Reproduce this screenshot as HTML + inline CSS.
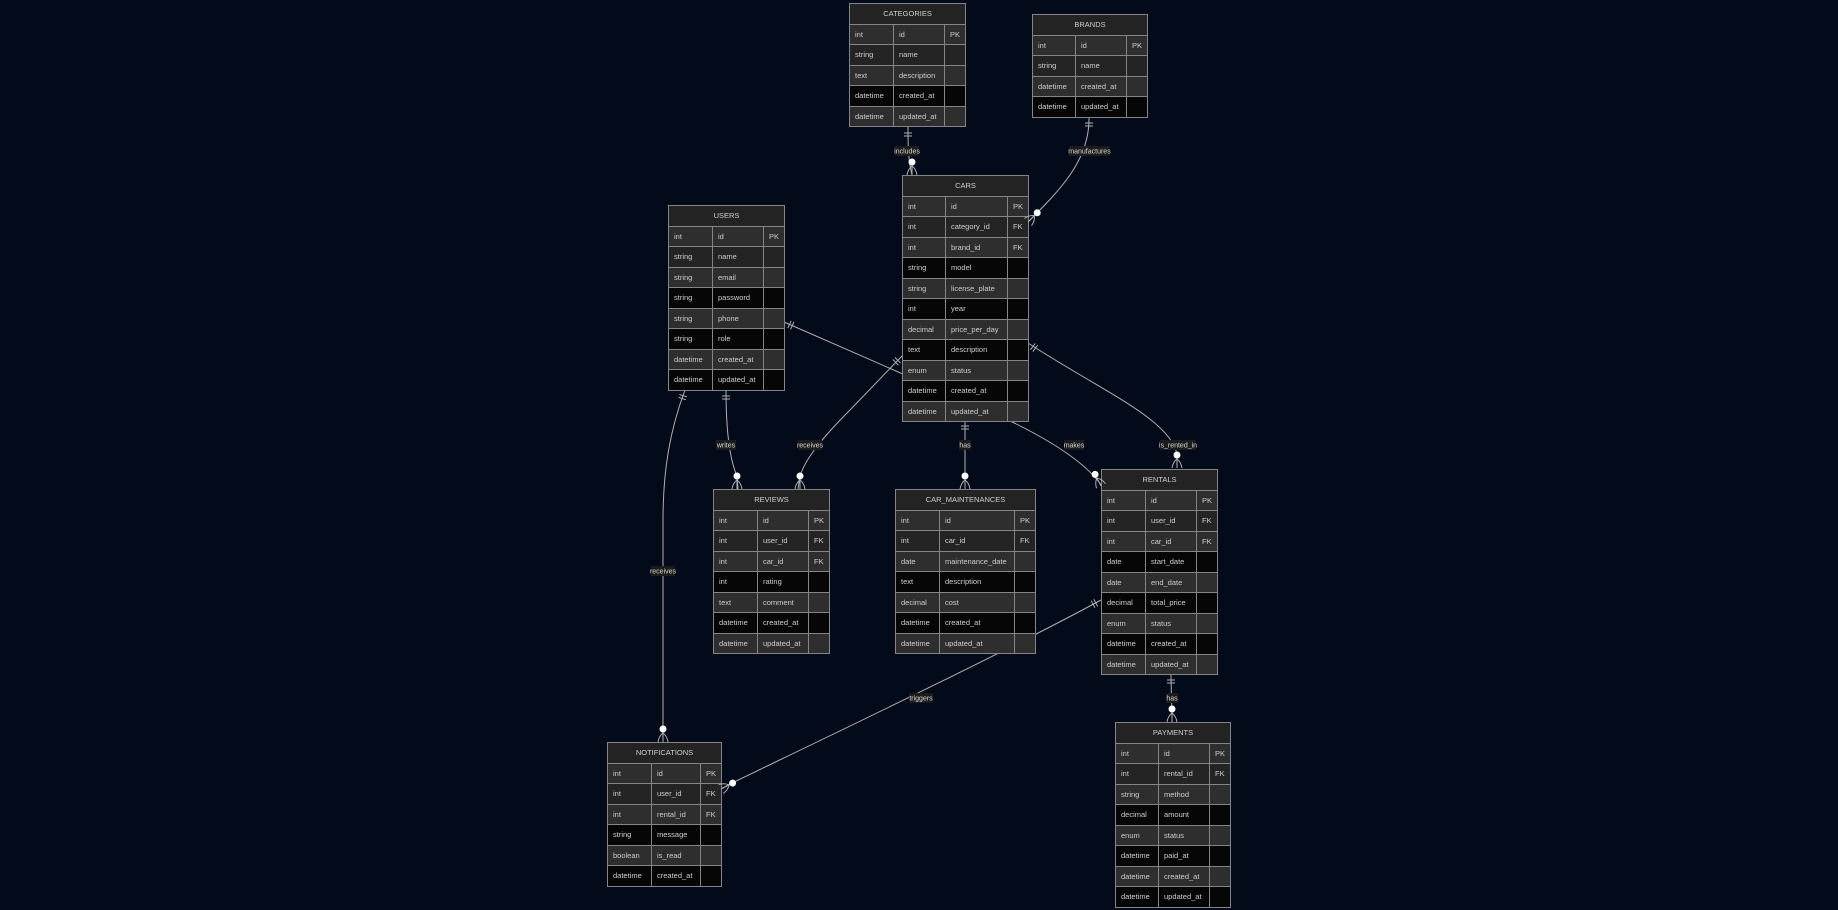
<!DOCTYPE html>
<html><head><meta charset="utf-8"><style>
html,body{margin:0;padding:0;background:#030a1a;width:1838px;height:910px;overflow:hidden;font-family:"Liberation Sans",sans-serif}
svg.e{position:absolute;left:0;top:0;z-index:1}
svg.m{position:absolute;left:0;top:0;z-index:3}
.t{position:absolute;z-index:2}
table{border-collapse:collapse;table-layout:fixed;border:1px solid #9a9a9a}
td,th{border:1px solid #858585;font-size:7.5px;color:#cfcfcf;padding:0 0 0 5px;height:19.5px;white-space:nowrap;overflow:hidden;font-weight:normal;text-align:left}
th{background:#232323;text-align:center;padding:0;height:19.6px}
tr.G td{background:#2e2e2e}tr.D td{background:#242424}tr.B td{background:#060606}
</style></head><body>
<svg class="e" width="1838" height="910" fill="none" stroke="#b0b0b0" stroke-width="1">
<path d="M908,127 C908,145 908,160 912,175"/>
<path d="M1089,117 C1090,160 1060,190 1028,222"/>
<path d="M784,322 L1008,420 C1050,440 1085,462 1102,486"/>
<path d="M902,356 L850,410 C820,440 805,460 800,476 L798,489"/>
<path d="M726,390 C726,430 730,460 737,476 L738,489"/>
<path d="M685,390 C670,430 663,470 663,520 L663,742"/>
<path d="M965,420 L965,489"/>
<path d="M1028,343 C1100,390 1172,420 1177,455 L1177,468"/>
<path d="M1101,600 C1000,655 800,750 734,782 L721,789"/>
<path d="M1171,674 C1171,690 1172,700 1172,722"/>
</svg>
<svg class="m" width="1838" height="910" fill="none" stroke="#b0b0b0" stroke-width="1">
<defs>
<g id="cf"><path d="M0,-9 Q-4,-6 -5,0 M0,-9 Q4,-6 5,0 M0,-13 L0,0"/><circle cx="0" cy="-13" r="3.5" fill="#fff" stroke="none"/></g>
<g id="one"><path d="M-4,6 L4,6 M-4,9 L4,9"/></g>
</defs>
<use href="#cf" transform="translate(912,175)"/>
<use href="#cf" transform="translate(1028,222) rotate(45)"/>
<use href="#cf" transform="translate(1101,486) rotate(-27)"/>
<use href="#cf" transform="translate(800,489)"/>
<use href="#cf" transform="translate(737,489)"/>
<use href="#cf" transform="translate(663,742)"/>
<use href="#cf" transform="translate(965,489)"/>
<use href="#cf" transform="translate(1177,468)"/>
<use href="#cf" transform="translate(721,789) rotate(63)"/>
<use href="#cf" transform="translate(1172,722)"/>
<use href="#one" transform="translate(908,127)"/>
<use href="#one" transform="translate(1089,117)"/>
<use href="#one" transform="translate(784,322) rotate(-66)"/>
<use href="#one" transform="translate(902,356) rotate(45)"/>
<use href="#one" transform="translate(726,390)"/>
<use href="#one" transform="translate(685,390) rotate(18)"/>
<use href="#one" transform="translate(965,420)"/>
<use href="#one" transform="translate(1028,343) rotate(-53)"/>
<use href="#one" transform="translate(1101,600) rotate(62)"/>
<use href="#one" transform="translate(1171,674)"/>
<g font-family="Liberation Sans,sans-serif" font-size="7" fill="#d8d8d8" stroke="none" text-anchor="middle">
<rect x="895" y="146" width="24" height="10" fill="#1c1c1c"/><text x="907" y="153.5">includes</text>
<rect x="1069" y="146" width="41" height="10" fill="#1c1c1c"/><text x="1089.5" y="153.5">manufactures</text>
<rect x="716" y="440" width="20" height="10" fill="#1c1c1c"/><text x="726" y="447.5">writes</text>
<rect x="798" y="440" width="24" height="10" fill="#1c1c1c"/><text x="810" y="447.5">receives</text>
<rect x="959" y="440" width="12" height="10" fill="#1c1c1c"/><text x="965" y="447.5">has</text>
<rect x="1064" y="440" width="20" height="10" fill="#1c1c1c"/><text x="1074" y="447.5">makes</text>
<rect x="1160" y="440" width="36" height="10" fill="#1c1c1c"/><text x="1178" y="447.5">is_rented_in</text>
<rect x="651" y="566" width="24" height="10" fill="#1c1c1c"/><text x="663" y="573.5">receives</text>
<rect x="909" y="693" width="24" height="10" fill="#1c1c1c"/><text x="921" y="700.5">triggers</text>
<rect x="1166" y="693" width="12" height="10" fill="#1c1c1c"/><text x="1172" y="700.5">has</text>
</g>
</svg>

<div class="t" style="left:849px;top:3px"><table style="width:116px"><colgroup><col style="width:44px"><col style="width:51px"><col style="width:21px"></colgroup>
<tr><th colspan="3">CATEGORIES</th></tr>
<tr class="G"><td>int</td><td>id</td><td>PK</td></tr>
<tr class="D"><td>string</td><td>name</td><td></td></tr>
<tr class="G"><td>text</td><td>description</td><td></td></tr>
<tr class="B"><td>datetime</td><td>created_at</td><td></td></tr>
<tr class="G"><td>datetime</td><td>updated_at</td><td></td></tr>
</table></div>

<div class="t" style="left:1032px;top:14px"><table style="width:115px"><colgroup><col style="width:43px"><col style="width:51px"><col style="width:21px"></colgroup>
<tr><th colspan="3">BRANDS</th></tr>
<tr class="G"><td>int</td><td>id</td><td>PK</td></tr>
<tr class="D"><td>string</td><td>name</td><td></td></tr>
<tr class="G"><td>datetime</td><td>created_at</td><td></td></tr>
<tr class="B"><td>datetime</td><td>updated_at</td><td></td></tr>
</table></div>

<div class="t" style="left:902px;top:175px"><table style="width:126px"><colgroup><col style="width:43px"><col style="width:62px"><col style="width:21px"></colgroup>
<tr><th colspan="3">CARS</th></tr>
<tr class="G"><td>int</td><td>id</td><td>PK</td></tr>
<tr class="D"><td>int</td><td>category_id</td><td>FK</td></tr>
<tr class="G"><td>int</td><td>brand_id</td><td>FK</td></tr>
<tr class="B"><td>string</td><td>model</td><td></td></tr>
<tr class="G"><td>string</td><td>license_plate</td><td></td></tr>
<tr class="B"><td>int</td><td>year</td><td></td></tr>
<tr class="G"><td>decimal</td><td>price_per_day</td><td></td></tr>
<tr class="B"><td>text</td><td>description</td><td></td></tr>
<tr class="G"><td>enum</td><td>status</td><td></td></tr>
<tr class="B"><td>datetime</td><td>created_at</td><td></td></tr>
<tr class="G"><td>datetime</td><td>updated_at</td><td></td></tr>
</table></div>

<div class="t" style="left:668px;top:205px"><table style="width:116px"><colgroup><col style="width:44px"><col style="width:51px"><col style="width:21px"></colgroup>
<tr><th colspan="3">USERS</th></tr>
<tr class="G"><td>int</td><td>id</td><td>PK</td></tr>
<tr class="D"><td>string</td><td>name</td><td></td></tr>
<tr class="G"><td>string</td><td>email</td><td></td></tr>
<tr class="B"><td>string</td><td>password</td><td></td></tr>
<tr class="G"><td>string</td><td>phone</td><td></td></tr>
<tr class="B"><td>string</td><td>role</td><td></td></tr>
<tr class="G"><td>datetime</td><td>created_at</td><td></td></tr>
<tr class="B"><td>datetime</td><td>updated_at</td><td></td></tr>
</table></div>

<div class="t" style="left:713px;top:489px"><table style="width:116px"><colgroup><col style="width:44px"><col style="width:51px"><col style="width:21px"></colgroup>
<tr><th colspan="3">REVIEWS</th></tr>
<tr class="G"><td>int</td><td>id</td><td>PK</td></tr>
<tr class="D"><td>int</td><td>user_id</td><td>FK</td></tr>
<tr class="G"><td>int</td><td>car_id</td><td>FK</td></tr>
<tr class="B"><td>int</td><td>rating</td><td></td></tr>
<tr class="G"><td>text</td><td>comment</td><td></td></tr>
<tr class="B"><td>datetime</td><td>created_at</td><td></td></tr>
<tr class="G"><td>datetime</td><td>updated_at</td><td></td></tr>
</table></div>

<div class="t" style="left:895px;top:489px"><table style="width:140px"><colgroup><col style="width:44px"><col style="width:75px"><col style="width:21px"></colgroup>
<tr><th colspan="3">CAR_MAINTENANCES</th></tr>
<tr class="G"><td>int</td><td>id</td><td>PK</td></tr>
<tr class="D"><td>int</td><td>car_id</td><td>FK</td></tr>
<tr class="G"><td>date</td><td>maintenance_date</td><td></td></tr>
<tr class="B"><td>text</td><td>description</td><td></td></tr>
<tr class="G"><td>decimal</td><td>cost</td><td></td></tr>
<tr class="B"><td>datetime</td><td>created_at</td><td></td></tr>
<tr class="G"><td>datetime</td><td>updated_at</td><td></td></tr>
</table></div>

<div class="t" style="left:1101px;top:469px"><table style="width:116px"><colgroup><col style="width:44px"><col style="width:51px"><col style="width:21px"></colgroup>
<tr><th colspan="3">RENTALS</th></tr>
<tr class="G"><td>int</td><td>id</td><td>PK</td></tr>
<tr class="D"><td>int</td><td>user_id</td><td>FK</td></tr>
<tr class="G"><td>int</td><td>car_id</td><td>FK</td></tr>
<tr class="B"><td>date</td><td>start_date</td><td></td></tr>
<tr class="G"><td>date</td><td>end_date</td><td></td></tr>
<tr class="B"><td>decimal</td><td>total_price</td><td></td></tr>
<tr class="G"><td>enum</td><td>status</td><td></td></tr>
<tr class="B"><td>datetime</td><td>created_at</td><td></td></tr>
<tr class="G"><td>datetime</td><td>updated_at</td><td></td></tr>
</table></div>

<div class="t" style="left:1115px;top:722px"><table style="width:115px"><colgroup><col style="width:43px"><col style="width:51px"><col style="width:21px"></colgroup>
<tr><th colspan="3">PAYMENTS</th></tr>
<tr class="G"><td>int</td><td>id</td><td>PK</td></tr>
<tr class="D"><td>int</td><td>rental_id</td><td>FK</td></tr>
<tr class="G"><td>string</td><td>method</td><td></td></tr>
<tr class="B"><td>decimal</td><td>amount</td><td></td></tr>
<tr class="G"><td>enum</td><td>status</td><td></td></tr>
<tr class="B"><td>datetime</td><td>paid_at</td><td></td></tr>
<tr class="G"><td>datetime</td><td>created_at</td><td></td></tr>
<tr class="B"><td>datetime</td><td>updated_at</td><td></td></tr>
</table></div>

<div class="t" style="left:607px;top:742px"><table style="width:114px"><colgroup><col style="width:44px"><col style="width:49px"><col style="width:21px"></colgroup>
<tr><th colspan="3">NOTIFICATIONS</th></tr>
<tr class="G"><td>int</td><td>id</td><td>PK</td></tr>
<tr class="D"><td>int</td><td>user_id</td><td>FK</td></tr>
<tr class="G"><td>int</td><td>rental_id</td><td>FK</td></tr>
<tr class="B"><td>string</td><td>message</td><td></td></tr>
<tr class="G"><td>boolean</td><td>is_read</td><td></td></tr>
<tr class="B"><td>datetime</td><td>created_at</td><td></td></tr>
</table></div>
</body></html>
